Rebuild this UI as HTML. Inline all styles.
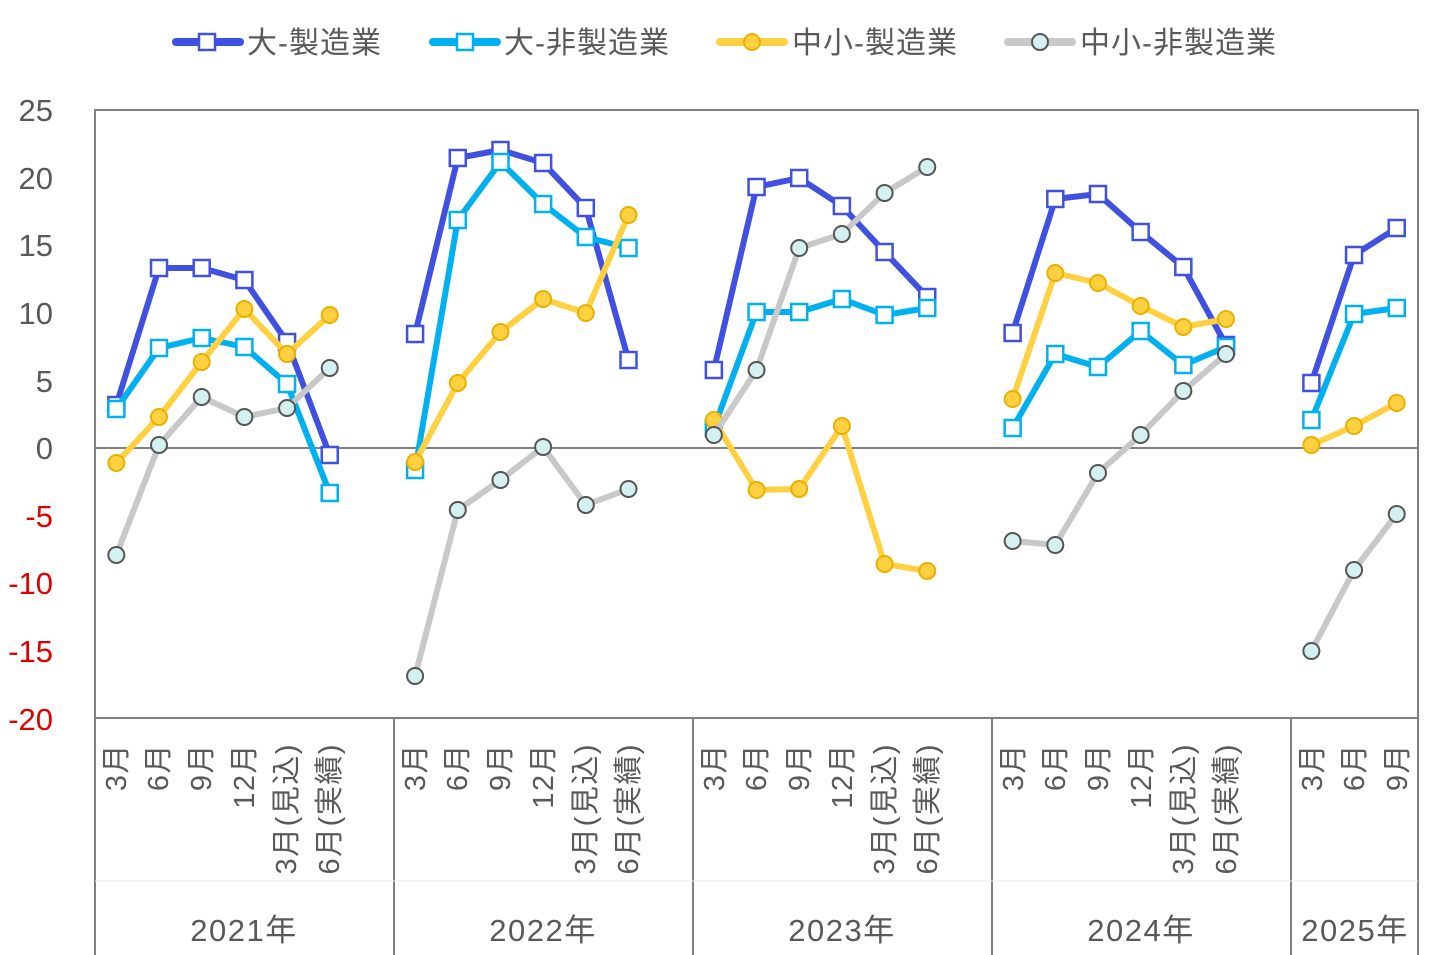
<!DOCTYPE html>
<html><head><meta charset="utf-8"><style>
html,body{margin:0;padding:0;background:#fff;}
svg{display:block;font-family:"Liberation Sans","Noto Sans CJK JP",sans-serif;}
</style></head><body>
<svg id="c" width="1432" height="955" viewBox="0 0 1432 955" xmlns="http://www.w3.org/2000/svg">
<rect x="0" y="0" width="1432" height="955" fill="#fff"/>
<g font-size="30" fill="#595959" letter-spacing="1">
<line x1="176" y1="42" x2="240" y2="42" stroke="#4050E0" stroke-width="8" stroke-linecap="round"/>
<rect x="199" y="34" width="16" height="16" fill="#fff" stroke="#4050E0" stroke-width="2.5"/>
<text x="247" y="53">大-製造業</text>
<line x1="433" y1="42" x2="497" y2="42" stroke="#00B0F0" stroke-width="8" stroke-linecap="round"/>
<rect x="457" y="34" width="16" height="16" fill="#fff" stroke="#00B0F0" stroke-width="2.5"/>
<text x="504" y="53">大-非製造業</text>
<line x1="720" y1="42" x2="784" y2="42" stroke="#FFD040" stroke-width="8" stroke-linecap="round"/>
<circle cx="752" cy="42" r="8" fill="#FFD040" stroke="#E8B000" stroke-width="2"/>
<text x="792" y="53">中小-製造業</text>
<line x1="1008" y1="42" x2="1072" y2="42" stroke="#C8C8C8" stroke-width="8" stroke-linecap="round"/>
<circle cx="1040" cy="42" r="8" fill="#D5F0F0" stroke="#555" stroke-width="2"/>
<text x="1080" y="53">中小-非製造業</text>
</g>
<g font-size="31" text-anchor="end" fill="#595959">
<text x="53" y="121">25</text><text x="53" y="189">20</text><text x="53" y="256">15</text>
<text x="53" y="324">10</text><text x="53" y="392">5</text><text x="53" y="459">0</text>
<g fill="#E00000"><text x="53" y="527">-5</text><text x="53" y="594">-10</text><text x="53" y="662">-15</text><text x="53" y="730">-20</text></g>
</g>
<rect x="95" y="110" width="1323" height="608" fill="none" stroke="#808080" stroke-width="2"/>
<line x1="95" y1="448" x2="1418" y2="448" stroke="#808080" stroke-width="2"/>
<g stroke="#808080" stroke-width="2">
<line x1="95" y1="718" x2="95" y2="955"/><line x1="394" y1="718" x2="394" y2="955"/>
<line x1="693" y1="718" x2="693" y2="955"/><line x1="992" y1="718" x2="992" y2="955"/>
<line x1="1291" y1="718" x2="1291" y2="955"/><line x1="1418" y1="718" x2="1418" y2="955"/>
</g>
<line x1="95" y1="881" x2="1418" y2="881" stroke="#eeeeee" stroke-width="1"/>
<g font-size="29" fill="#595959" text-anchor="end" dominant-baseline="central" letter-spacing="1.5">
<text transform="translate(117,743) rotate(-90)">3月</text>
<text transform="translate(159,743) rotate(-90)">6月</text>
<text transform="translate(202,743) rotate(-90)">9月</text>
<text transform="translate(245,743) rotate(-90)">12月</text>
<text transform="translate(287,743) rotate(-90)">3月(見込)</text>
<text transform="translate(330,743) rotate(-90)">6月(実績)</text>
<text transform="translate(416,743) rotate(-90)">3月</text>
<text transform="translate(458,743) rotate(-90)">6月</text>
<text transform="translate(501,743) rotate(-90)">9月</text>
<text transform="translate(544,743) rotate(-90)">12月</text>
<text transform="translate(586,743) rotate(-90)">3月(見込)</text>
<text transform="translate(629,743) rotate(-90)">6月(実績)</text>
<text transform="translate(715,743) rotate(-90)">3月</text>
<text transform="translate(757,743) rotate(-90)">6月</text>
<text transform="translate(800,743) rotate(-90)">9月</text>
<text transform="translate(843,743) rotate(-90)">12月</text>
<text transform="translate(885,743) rotate(-90)">3月(見込)</text>
<text transform="translate(928,743) rotate(-90)">6月(実績)</text>
<text transform="translate(1014,743) rotate(-90)">3月</text>
<text transform="translate(1056,743) rotate(-90)">6月</text>
<text transform="translate(1099,743) rotate(-90)">9月</text>
<text transform="translate(1142,743) rotate(-90)">12月</text>
<text transform="translate(1184,743) rotate(-90)">3月(見込)</text>
<text transform="translate(1227,743) rotate(-90)">6月(実績)</text>
<text transform="translate(1313,743) rotate(-90)">3月</text>
<text transform="translate(1355,743) rotate(-90)">6月</text>
<text transform="translate(1398,743) rotate(-90)">9月</text>
</g>
<g font-size="31" fill="#595959" text-anchor="middle" letter-spacing="1.5">
<text x="244" y="941">2021年</text><text x="543" y="941">2022年</text>
<text x="842" y="941">2023年</text><text x="1141" y="941">2024年</text>
<text x="1355" y="941">2025年</text>
</g>
<g id="series"></g>
</svg>
<script>
(function(){
var xs=[];
for(var g=0;g<5;g++){var n=g<4?6:3;var a=[];for(var i=0;i<n;i++)a.push(95+42.68*(g*7+i+0.5));xs.push(a);}
var S=[
{c:"#4050E0",m:"sq",d:[[405,268,268,280,342,455],[334,158,150,163,208,360],[370,187,178,206,252,297],[333,199,194,232,267,345],[383,255,228]]},
{c:"#00B0F0",m:"sq",d:[[409,348,338,347,384,493],[470,220,162,204,237,248],[428,312,312,299,315,308],[428,354,367,331,365,347],[420,314,308]]},
{c:"#FFD040",m:"ci",f:"#FFD040",s:"#E8B000",d:[[463,417,362,309,354,315],[462,383,332,299,313,215],[420,490,489,426,564,571],[399,273,283,306,327,319],[445,426,403]]},
{c:"#C8C8C8",m:"ci",f:"#D5F0F0",s:"#555",d:[[555,445,397,417,408,368],[676,510,480,447,505,489],[435,370,248,234,193,167],[541,545,473,435,391,354],[651,570,514]]}
];
var h="";
S.forEach(function(s){
 s.d.forEach(function(arr,g){
  var p=arr.map(function(y,i){return xs[g][i].toFixed(1)+","+y;}).join(" ");
  h+='<polyline points="'+p+'" fill="none" stroke="'+s.c+'" stroke-width="6" stroke-linejoin="round" stroke-linecap="round"/>';
 });
 s.d.forEach(function(arr,g){
  arr.forEach(function(y,i){var x=xs[g][i];
   if(s.m=="sq")h+='<rect x="'+(x-8)+'" y="'+(y-8)+'" width="16" height="16" fill="#fff" stroke="'+s.c+'" stroke-width="2.5"/>';
   else h+='<circle cx="'+x+'" cy="'+y+'" r="8" fill="'+s.f+'" stroke="'+s.s+'" stroke-width="2"/>';
  });
 });
});
document.getElementById("series").innerHTML=h;
})();
</script>
</body></html>
